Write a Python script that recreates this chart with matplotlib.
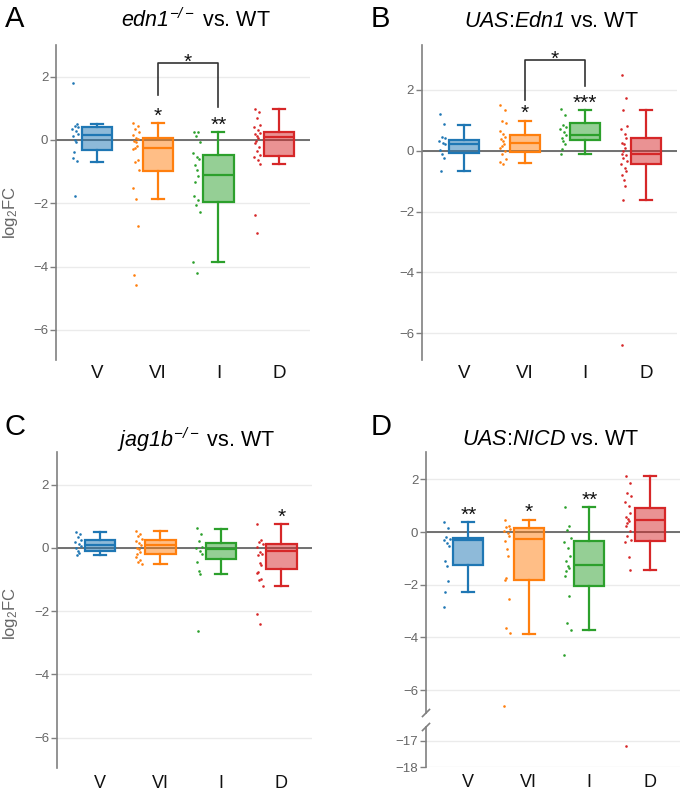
import matplotlib
matplotlib.use("Agg")
import matplotlib.pyplot as plt
from matplotlib.colors import to_rgba
from matplotlib.lines import Line2D

plt.rcParams['font.family'] = ['Liberation Sans', 'DejaVu Sans']
plt.rcParams['mathtext.fontset'] = 'custom'
plt.rcParams['mathtext.rm'] = 'Liberation Sans:italic'
plt.rcParams['mathtext.it'] = 'Liberation Sans:italic'
plt.rcParams['mathtext.sf'] = 'Liberation Sans'
plt.rcParams['mathtext.bf'] = 'Liberation Sans:bold'

# ---------------- data ----------------
categories = ["V", "VI", "I", "D"]
colors = ["#1f77b4", "#ff7f0e", "#2ca02c", "#d62728"]

# Panel A: edn1-/- vs WT
A_med = [0.16, -0.26, -1.10, 0.08]
A_q1 = [-0.32, -0.97, -1.97, -0.50]
A_q3 = [0.42, 0.05, -0.47, 0.24]
A_lo = [-0.71, -1.86, -3.87, -0.77]
A_hi = [0.50, 0.53, 0.25, 0.97]
A_V = [1.79, 0.49, 0.44, 0.40, 0.34, 0.27, 0.19, 0.12, 0.0, -0.05, -0.37, -0.58, -0.66, -1.77]
A_VI = [0.55, 0.45, 0.35, 0.25, 0.15, 0.05, 0.02, -0.02, -0.05, -0.20, -0.25, -0.30, -0.62,
        -0.70, -0.95, -1.53, -1.85, -2.71, -4.27, -4.58]
A_I = [0.26, 0.24, 0.11, -0.05, -0.42, -0.55, -0.61, -0.79, -0.95, -1.14, -1.32, -1.77, -1.89,
       -2.05, -2.26, -3.87, -4.21]
A_D = [0.97, 0.89, 0.68, 0.47, 0.40, 0.32, 0.23, 0.18, 0.13, 0.05, -0.02, -0.10, -0.21, -0.35,
       -0.47, -0.55, -0.63, -0.77, -2.37, -2.95]
A_stars = ["", "*", "**", ""]

# Panel B: UAS:Edn1 vs WT
B_med = [0.24, 0.27, 0.52, -0.12]
B_q1 = [-0.07, -0.05, 0.34, -0.45]
B_q3 = [0.37, 0.52, 0.93, 0.43]
B_lo = [-0.66, -0.39, -0.09, -1.62]
B_hi = [0.84, 0.99, 1.34, 1.34]
B_V = [1.20, 0.87, 0.46, 0.41, 0.32, 0.27, 0.21, 0.02, -0.11, -0.23, -0.66]
B_VI = [1.52, 1.34, 0.98, 0.92, 0.65, 0.54, 0.46, 0.38, 0.32, 0.24, 0.16, 0.08, 0.0, -0.09,
        -0.27, -0.36, -0.42]
B_I = [1.37, 1.17, 0.84, 0.79, 0.71, 0.63, 0.52, 0.41, 0.32, 0.24, 0.05, -0.09]
B_D = [2.49, 1.74, 1.34, 0.82, 0.71, 0.54, 0.41, 0.27, 0.21, 0.08, -0.01, -0.09, -0.14, -0.25,
       -0.34, -0.42, -0.56, -0.67, -0.80, -0.96, -1.16, -1.62, -6.39]
B_stars = ["", "*", "***", ""]

# Panel C: jag1b-/- vs WT
C_med = [0.10, 0.08, -0.05, -0.10]
C_q1 = [-0.09, -0.20, -0.35, -0.66]
C_q3 = [0.26, 0.24, 0.14, 0.11]
C_lo = [-0.22, -0.50, -0.84, -1.20]
C_hi = [0.50, 0.53, 0.61, 0.74]
C_V = [0.50, 0.43, 0.35, 0.26, 0.19, 0.12, 0.05, -0.02, -0.09, -0.16, -0.22]
C_VI = [0.53, 0.45, 0.37, 0.29, 0.22, 0.16, 0.08, 0.01, -0.05, -0.13, -0.20, -0.28, -0.37,
        -0.44, -0.50]
C_I = [0.63, 0.45, 0.22, 0.03, -0.02, -0.09, -0.18, -0.44, -0.73, -0.83, -2.63]
C_D = [0.75, 0.26, 0.19, 0.12, 0.03, -0.13, -0.18, -0.23, -0.47, -0.55, -0.76, -0.81, -0.97,
       -1.02, -1.20, -2.10, -2.41]
C_stars = ["", "", "", "*"]

# Panel D: UAS:NICD vs WT
D_med = [-0.32, -0.27, -1.24, 0.44]
D_q1 = [-1.27, -1.81, -2.06, -0.35]
D_q3 = [-0.23, 0.15, -0.33, 0.91]
D_lo = [-2.28, -3.86, -3.73, -1.46]
D_hi = [0.37, 0.46, 0.94, 2.11]
D_V = [0.37, 0.15, -0.19, -0.25, -0.32, -0.42, -0.52, -1.11, -1.28, -1.87, -2.29, -2.86]
D_VI = [0.47, 0.24, 0.18, 0.11, 0.03, -0.04, -0.16, -0.35, -0.65, -0.92, -1.75, -1.81, -2.54,
        -3.65, -3.84, -6.60]
D_I = [0.95, 0.24, 0.09, -0.23, -0.39, -0.61, -0.90, -1.11, -1.28, -1.37, -1.49, -1.66, -2.44,
       -3.46, -3.73, -4.66]
D_D = [2.14, 1.86, 1.48, 1.38, 1.13, 0.97, 0.72, 0.57, 0.49, 0.41, 0.34, 0.22, 0.03, -0.16,
       -0.29, -0.39, -0.95, -1.46, -17.2]
D_stars = ["**", "*", "**", ""]

# ---------------- layout ----------------
W, H = 683, 793
fig = plt.figure(figsize=(W / 100, H / 100), dpi=100)
fig.patch.set_facecolor("white")


def rect(l, r, t, b):
    return [l / W, 1 - b / H, (r - l) / W, (b - t) / H]


def fig_text(x, y, s, **kw):
    fig.text(x / W, 1 - y / H, s, **kw)


JIT = [-0.04, 0.03, -0.01, 0.05, -0.05, 0.01, 0.04, -0.03, 0.0, 0.02, -0.02]
SPINE = "#808080"
GRID = "#ebebeb"
TICKLAB = "#666666"
STAR_FS = 15


def style_axis(ax, yticks, xlim, ylim, xlabels=True, xpad=3.6, xfs=13.5):
    ax.set_xlim(*xlim)
    ax.set_ylim(*ylim)
    for s in ["top", "right", "bottom"]:
        ax.spines[s].set_visible(False)
    ax.spines["left"].set_color(SPINE)
    ax.spines["left"].set_linewidth(1.2)
    ax.set_yticks(yticks)
    ax.tick_params(axis="y", length=4, width=1.0, color=SPINE, labelcolor=TICKLAB,
                   labelsize=9.5, pad=1.5)
    ax.yaxis.grid(True, color=GRID, lw=1.0)
    ax.set_axisbelow(True)
    ax.set_xticks(range(len(categories)))
    if xlabels:
        ax.set_xticklabels(categories, fontsize=xfs, color="#111111")
        ax.tick_params(axis="x", length=0, pad=xpad)
    else:
        ax.set_xticklabels([])
        ax.tick_params(axis="x", length=0)


def draw_data(ax, med, q1, q3, lo, hi, pts):
    ax.axhline(0, color="#5a5a5a", lw=1.2, zorder=1.5)
    for i in range(len(categories)):
        c = colors[i]
        st = dict(med=med[i], q1=q1[i], q3=q3[i], whislo=lo[i], whishi=hi[i], fliers=[])
        ax.bxp([st], positions=[i], widths=0.5, capwidths=0.2, patch_artist=True,
               showfliers=False, manage_ticks=False,
               boxprops=dict(facecolor=to_rgba(c, 0.5), edgecolor=c, lw=1.6),
               medianprops=dict(color=c, lw=1.6),
               whiskerprops=dict(color=c, lw=1.6),
               capprops=dict(color=c, lw=1.6), zorder=2)
        ys = pts[i]
        xs = [i - 0.36 + JIT[k % len(JIT)] for k in range(len(ys))]
        ax.scatter(xs, ys, s=3.5, color=c, lw=0, zorder=3)


def draw_stars(ax, stars, hi):
    fs_px = STAR_FS * 100 / 72
    for i, s in enumerate(stars):
        if s:
            off = (14 - 0.59 * fs_px) * 72 / 100
            ax.annotate(s, xy=(i, hi[i]), xytext=(0, off), textcoords="offset points",
                        ha="center", va="baseline", fontsize=STAR_FS, color="#111111")


def draw_bracket(ax, x0, x1, y0, ytop, y1, star="*"):
    ax.plot([x0, x0, x1, x1], [y0, ytop, ytop, y1], color="#333333", lw=1.2,
            clip_on=False, zorder=4)
    fs_px = STAR_FS * 100 / 72
    off = (7.5 - 0.59 * fs_px) * 72 / 100
    ax.annotate(star, xy=((x0 + x1) / 2, ytop), xytext=(0, off), textcoords="offset points",
                ha="center", va="baseline", fontsize=STAR_FS, color="#111111",
                annotation_clip=False)


yt = [2, 0, -2, -4, -6]

# Panel A
axA = fig.add_axes(rect(56, 310, 45, 360))
style_axis(axA, yt, (-0.676, 3.51), (-6.95, 3.0))
draw_data(axA, A_med, A_q1, A_q3, A_lo, A_hi, [A_V, A_VI, A_I, A_D])
draw_stars(axA, A_stars, A_hi)
draw_bracket(axA, 1, 2, 1.42, 2.44, 1.05)

# Panel B
axB = fig.add_axes(rect(421.7, 676.7, 45, 360))
style_axis(axB, yt, (-0.70, 3.51), (-6.88, 3.48))
draw_data(axB, B_med, B_q1, B_q3, B_lo, B_hi, [B_V, B_VI, B_I, B_D])
draw_stars(axB, B_stars, B_hi)
draw_bracket(axB, 1, 2, 1.67, 2.98, 2.13)

# Panel C
axC = fig.add_axes(rect(56.7, 311.7, 451.7, 768.3))
style_axis(axC, yt, (-0.715, 3.5), (-6.97, 3.04), xpad=5.0, xfs=13)
draw_data(axC, C_med, C_q1, C_q3, C_lo, C_hi, [C_V, C_VI, C_I, C_D])
draw_stars(axC, C_stars, C_hi)

# Panel D (broken axis)
axDu = fig.add_axes(rect(426, 680, 451.7, 713))
style_axis(axDu, yt, (-0.70, 3.5), (-6.87, 3.05), xlabels=False)
draw_data(axDu, D_med, D_q1, D_q3, D_lo, D_hi, [D_V, D_VI, D_I, D_D])
draw_stars(axDu, D_stars, D_hi)

axDl = fig.add_axes(rect(426, 680, 727, 767.3))
style_axis(axDl, [-17, -18], (-0.70, 3.5), (-18, -16.49), xpad=5.0, xfs=13)
draw_data(axDl, D_med, D_q1, D_q3, D_lo, D_hi, [D_V, D_VI, D_I, D_D])

# break marks on spine
for yc in (713, 727):
    fig.add_artist(Line2D([(426 - 3.5) / W, (426 + 3.5) / W],
                          [1 - (yc + 3.5) / H, 1 - (yc - 3.5) / H],
                          color=SPINE, lw=1.2))

# titles
TFS = 15.5
fig_text(196, 26.7, r"$\mathit{edn1}^{-/-}$ vs. WT", ha="center", va="baseline", fontsize=TFS)
fig_text(551, 26.7, r"$\mathit{UAS}$:$\mathit{Edn1}$ vs. WT", ha="center", va="baseline", fontsize=TFS)
fig_text(196, 446.7, r"$\mathit{jag1b}^{-/-}$ vs. WT", ha="center", va="baseline", fontsize=TFS)
fig_text(551, 445, r"$\mathit{UAS}$:$\mathit{NICD}$ vs. WT", ha="center", va="baseline", fontsize=TFS)

# panel letters
fig_text(5, 26.7, "A", ha="left", va="baseline", fontsize=21)
fig_text(371, 26.7, "B", ha="left", va="baseline", fontsize=21)
fig_text(4, 435, "C", ha="left", va="baseline", fontsize=21)
fig_text(371, 435, "D", ha="left", va="baseline", fontsize=21)

# y labels
fig_text(11, 213, r"log$_\mathsf{2}$FC", ha="center", va="center", rotation=90, fontsize=12, color=TICKLAB)
fig_text(11, 614, r"log$_\mathsf{2}$FC", ha="center", va="center", rotation=90, fontsize=12, color=TICKLAB)

fig.savefig("out.png", dpi=100, facecolor="white")
